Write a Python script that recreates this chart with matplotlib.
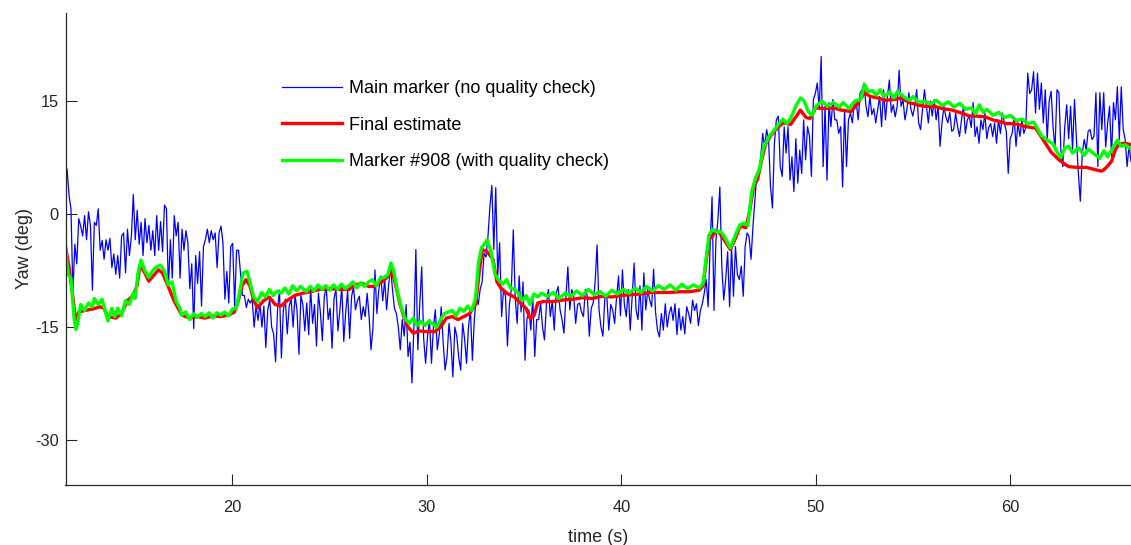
import numpy as np
import matplotlib
matplotlib.use("Agg")
from matplotlib import pyplot as plt

plt.rcParams["font.family"] = ["Liberation Sans", "DejaVu Sans"]
plt.rcParams["axes.unicode_minus"] = False

# Main marker, one value every 0.1 s from 11.4 s to 66.2 s (one row = one second)
blue_yaw = [
    3.0, 6.0, 2.5, 0.7, -10.3, -4.0,
    -6.6, -0.6, -1.6, -2.9, -0.2, -3.4, 0.3, -1.5, -10.1, -1.1,
    -1.5, 0.7, -4.8, -3.5, -6.0, -3.4, -4.8, -3.2, -7.1, -5.3,
    -8.0, -5.5, -8.5, -2.9, -2.5, -7.8, -2.0, -5.5, -3.0, 2.6,
    -3.4, 0.5, -4.0, -1.1, -5.5, -0.6, -3.8, -1.5, -4.8, -2.2,
    -5.5, -0.2, -4.8, -1.0, -5.0, 1.2, 0.7, -9.9, -3.4, -8.5,
    -0.2, -2.9, -1.1, -8.5, -2.0, -4.8, -2.2, -3.8, -9.9, -6.6,
    -15.2, -5.5, -9.2, -5.0, -12.2, -4.3, -3.4, -2.0, -3.8, -2.2,
    -3.4, -2.5, -7.1, -2.5, -1.6, -3.8, -11.3, -7.6, -11.8, -4.3,
    -3.9, -12.2, -4.8, -4.8, -7.8, -10.8, -10.8, -12.4, -11.3, -11.8,
    -11.3, -15.0, -12.2, -14.1, -11.8, -15.0, -12.2, -17.7, -12.7, -11.3,
    -15.0, -15.9, -19.6, -12.7, -10.1, -19.1, -12.7, -11.3, -15.9, -12.2,
    -11.3, -15.0, -10.8, -12.7, -18.6, -10.8, -12.0, -15.5, -11.8, -16.0,
    -9.8, -14.5, -12.0, -17.5, -10.5, -13.0, -16.8, -11.0, -9.6, -14.0,
    -12.5, -17.8, -11.2, -10.0, -15.5, -12.8, -9.5, -16.9, -13.0, -10.2,
    -16.5, -11.0, -9.6, -12.7, -11.5, -10.9, -14.0, -12.3, -13.6, -10.5,
    -13.6, -18.0, -15.0, -7.4, -13.2, -10.0, -8.2, -11.5, -8.7, -12.7,
    -9.5, -7.0, -10.0, -12.5, -13.2, -15.0, -18.0, -14.0, -16.2, -12.0,
    -18.9, -17.0, -22.4, -15.0, -4.7, -18.0, -12.0, -7.0, -16.5, -19.8,
    -16.2, -14.0, -19.8, -15.0, -12.7, -18.0, -16.0, -12.3, -17.0, -20.7,
    -18.9, -14.5, -17.0, -21.6, -15.0, -16.2, -19.0, -20.7, -14.5, -16.5,
    -19.8, -15.0, -12.7, -19.4, -14.0, -10.9, -12.0, -10.0, -9.0, -5.2,
    -5.7, -3.0, 1.0, 3.8, -4.7, 3.5, -8.2, -3.8, -13.6, -10.0,
    -10.9, -17.5, -12.0, -10.0, -2.1, -11.3, -14.5, -8.2, -13.0, -9.0,
    -19.4, -14.0, -12.7, -15.4, -11.0, -18.9, -14.0, -14.0, -11.8, -15.0,
    -16.7, -12.0, -10.0, -13.6, -11.5, -15.4, -10.5, -9.6, -12.7, -14.0,
    -15.8, -11.0, -7.0, -12.7, -10.0, -10.9, -14.5, -12.0, -11.8, -13.0,
    -13.6, -10.0, -10.9, -16.2, -12.5, -11.8, -9.0, -4.1, -12.7, -15.0,
    -16.2, -11.0, -10.9, -15.4, -12.0, -12.7, -14.5, -11.0, -8.2, -13.5,
    -7.4, -12.0, -13.6, -10.0, -15.4, -11.0, -6.5, -12.7, -14.0, -9.5,
    -15.4, -7.8, -12.7, -10.0, -11.4, -12.3, -7.3, -13.0, -15.4, -16.3,
    -13.2, -15.4, -11.9, -15.0, -13.2, -12.3, -14.1, -11.9, -16.0, -12.5,
    -15.4, -13.6, -15.9, -12.3, -13.2, -14.5, -11.4, -12.8, -11.9, -14.8,
    -12.8, -11.9, -10.5, -8.7, -12.3, -4.3, 2.3, -12.8, -3.4, -0.8,
    3.6, -6.9, -11.4, -8.7, -5.0, -12.3, -4.3, -10.9, -4.3, -8.0,
    -8.7, -6.9, -10.9, -4.3, -2.5, -3.0, -6.0, -1.6, 2.0, 5.4,
    5.4, 7.6, 10.7, 8.9, 11.2, 9.9, 3.6, 0.8, 9.4, 12.5,
    13.0, 6.3, 5.0, 11.6, 8.1, 11.6, 4.5, 7.6, 3.0, 10.0,
    4.1, 8.5, 5.4, 12.5, 7.2, 11.6, 10.3, 5.0, 15.2, 16.0,
    17.4, 13.9, 20.9, 6.3, 14.3, 4.5, 14.8, 11.6, 15.2, 12.5,
    12.5, 10.7, 11.6, 3.6, 13.9, 6.3, 12.5, 13.4, 12.1, 14.8,
    14.8, 12.5, 16.1, 16.5, 17.4, 14.3, 12.9, 15.6, 13.2, 14.0,
    12.1, 13.9, 15.6, 11.6, 16.5, 12.5, 15.6, 17.8, 13.5, 14.5,
    12.9, 14.3, 19.1, 14.3, 15.2, 12.5, 13.9, 16.1, 14.0, 13.0,
    14.3, 16.5, 12.1, 11.2, 13.9, 16.5, 14.3, 12.1, 15.0, 13.0,
    15.2, 12.5, 14.3, 9.0, 12.1, 14.3, 12.9, 12.1, 13.5, 11.0,
    11.2, 13.4, 11.6, 10.3, 12.5, 14.3, 10.7, 12.5, 13.0, 11.5,
    14.8, 10.3, 11.6, 9.4, 12.5, 11.2, 13.4, 10.0, 11.5, 12.0,
    10.3, 12.1, 9.4, 12.5, 10.7, 13.4, 12.1, 11.0, 5.4, 10.0,
    10.7, 12.9, 9.0, 12.1, 10.3, 12.5, 10.7, 11.5, 18.7, 16.0,
    16.5, 18.9, 13.4, 18.7, 13.9, 17.4, 12.1, 16.5, 9.9, 15.0,
    16.3, 11.6, 8.5, 16.5, 16.1, 8.5, 6.3, 11.6, 14.5, 10.0,
    14.3, 8.5, 15.2, 9.9, 5.4, 1.7, 8.1, 9.9, 8.5, 11.0,
    11.2, 9.9, 10.3, 16.1, 6.3, 16.1, 11.2, 16.1, 8.9, 12.0,
    14.3, 7.6, 14.8, 12.5, 16.9, 9.9, 16.9, 11.2, 9.9, 6.3, 9.0, 7.0,
]
blue_time = np.linspace(11.4, 66.2, len(blue_yaw))

# Final estimate (time, yaw)
red_time = [
    11.4, 11.6, 11.8, 11.95, 12.1, 12.4, 12.8, 13.2, 13.4, 13.6, 14.0, 14.3,
    14.6, 14.9, 15.1, 15.25, 15.5, 15.7, 16.0, 16.2, 16.4, 16.7, 17.0, 17.4,
    17.8, 18.2, 18.6, 19.0, 19.4, 19.8, 20.1, 20.3, 20.5, 20.7, 20.9, 21.1,
    21.3, 21.6, 21.9, 22.2, 22.5, 22.8, 23.2, 23.6, 24.0, 24.5, 25.0, 25.5,
    26.0, 26.3, 26.7, 27.0, 27.3, 27.7, 28.0, 28.2, 28.4, 28.6, 28.8, 29.0,
    29.3, 29.6, 30.0, 30.4, 30.7, 31.0, 31.3, 31.6, 31.9, 32.2, 32.5, 32.7,
    32.85, 33.1, 33.4, 33.6, 33.8, 34.1, 34.5, 34.8, 35.1, 35.3, 35.5, 35.7,
    36.0, 36.5, 37.0, 37.5, 38.0, 38.5, 39.0, 39.5, 40.0, 40.5, 41.0, 41.5,
    42.0, 42.5, 43.0, 43.5, 44.0, 44.2, 44.5, 44.8, 45.0, 45.3, 45.6, 45.9,
    46.1, 46.4, 46.6, 46.8, 47.0, 47.2, 47.4, 47.7, 48.0, 48.3, 48.7, 49.0,
    49.2, 49.5, 49.7, 50.0, 50.5, 50.9, 51.3, 51.8, 52.1, 52.5, 52.8, 53.2,
    53.6, 54.0, 54.4, 54.8, 55.2, 55.6, 56.1, 56.5, 57.0, 57.5, 57.9, 58.3,
    58.7, 59.1, 59.4, 59.8, 60.1, 60.4, 60.8, 61.3, 61.5, 61.8, 62.1, 62.5,
    62.8, 63.0, 63.4, 63.9, 64.2, 64.5, 64.7, 64.9, 65.2, 65.4, 65.6, 65.9,
    66.2,
]
red_yaw = [
    -4.1, -7.0, -11.0, -14.5, -13.0, -12.8, -12.6, -12.3, -12.5, -13.6, -13.8, -13.2,
    -11.5, -10.8, -9.5, -6.8, -7.8, -8.9, -8.0, -7.4, -7.8, -9.6, -11.5, -13.4,
    -13.8, -13.6, -13.8, -13.5, -13.6, -13.4, -13.0, -11.5, -9.5, -8.7, -9.5, -11.5,
    -12.4, -11.5, -11.0, -12.0, -12.2, -11.5, -10.8, -10.5, -10.3, -10.0, -9.9, -10.0,
    -10.0, -9.4, -9.2, -9.6, -9.6, -9.0, -8.2, -7.4, -9.5, -11.8, -13.5, -14.9,
    -15.8, -15.5, -15.6, -15.6, -15.0, -13.8, -13.6, -14.0, -13.6, -13.2, -12.0, -7.5,
    -4.7, -5.0, -6.0, -9.0, -9.8, -10.5, -11.0, -11.8, -12.5, -13.8, -13.5, -11.8,
    -11.6, -11.6, -11.4, -11.3, -11.1, -11.2, -10.9, -11.0, -10.8, -10.7, -10.6, -10.4,
    -10.4, -10.4, -10.3, -10.3, -10.1, -9.5, -3.4, -2.5, -2.3, -3.5, -4.7, -3.0,
    -1.6, -1.8, 0.5, 3.7, 4.6, 7.0, 9.2, 10.5, 11.4, 12.1, 11.9, 13.0,
    13.8, 12.8, 12.7, 14.1, 14.0, 14.1, 13.8, 13.6, 14.5, 16.1, 15.6, 15.4,
    15.1, 15.2, 15.4, 14.8, 14.5, 14.3, 14.3, 14.0, 13.8, 13.4, 13.0, 13.0,
    12.9, 12.5, 12.3, 12.0, 12.0, 11.9, 11.6, 11.4, 10.6, 9.4, 8.2, 7.2,
    6.6, 6.3, 6.2, 6.2, 6.0, 5.8, 5.7, 6.1, 7.0, 8.6, 9.3, 9.4,
    9.2,
]

# Marker #908 (time, yaw)
green_time = [
    11.4, 11.55, 11.7, 11.85, 11.95, 12.05, 12.2, 12.4, 12.6, 12.8, 12.9, 13.1,
    13.3, 13.5, 13.6, 13.8, 13.95, 14.1, 14.3, 14.5, 14.7, 14.9, 15.0, 15.15,
    15.3, 15.5, 15.7, 15.9, 16.1, 16.3, 16.5, 16.7, 16.9, 17.1, 17.3, 17.4,
    17.6, 17.8, 18.0, 18.2, 18.4, 18.6, 18.8, 19.0, 19.2, 19.4, 19.6, 19.8,
    20.0, 20.2, 20.4, 20.55, 20.75, 20.9, 21.1, 21.3, 21.5, 21.7, 21.9, 22.1,
    22.3, 22.5, 22.7, 22.9, 23.1, 23.3, 23.5, 23.8, 24.0, 24.2, 24.4, 24.6,
    24.8, 25.0, 25.2, 25.4, 25.6, 25.8, 26.0, 26.2, 26.4, 26.6, 26.8, 27.0,
    27.2, 27.4, 27.6, 27.8, 28.0, 28.15, 28.3, 28.5, 28.7, 28.9, 29.1, 29.3,
    29.5, 29.7, 29.9, 30.1, 30.3, 30.5, 30.7, 30.9, 31.1, 31.3, 31.5, 31.7,
    31.9, 32.1, 32.3, 32.5, 32.65, 32.8, 33.0, 33.1, 33.3, 33.5, 33.7, 33.9,
    34.1, 34.3, 34.5, 34.7, 34.9, 35.1, 35.3, 35.5, 35.7, 35.9, 36.2, 36.5,
    36.8, 37.1, 37.4, 37.7, 38.0, 38.3, 38.6, 38.9, 39.2, 39.5, 39.8, 40.1,
    40.4, 40.7, 41.0, 41.3, 41.6, 41.9, 42.2, 42.5, 42.8, 43.1, 43.4, 43.7,
    44.0, 44.2, 44.5, 44.7, 44.9, 45.1, 45.3, 45.6, 45.9, 46.1, 46.3, 46.5,
    46.7, 46.9, 47.1, 47.3, 47.6, 47.9, 48.1, 48.3, 48.5, 48.7, 49.0, 49.2,
    49.4, 49.6, 49.8, 50.0, 50.3, 50.6, 50.9, 51.2, 51.4, 51.7, 52.0, 52.3,
    52.5, 52.7, 52.9, 53.1, 53.3, 53.5, 53.8, 54.0, 54.2, 54.5, 54.8, 55.0,
    55.3, 55.6, 55.9, 56.2, 56.5, 56.8, 57.1, 57.4, 57.7, 58.0, 58.2, 58.4,
    58.6, 58.8, 59.1, 59.4, 59.7, 60.0, 60.3, 60.6, 60.9, 61.2, 61.4, 61.6,
    61.8, 62.0, 62.2, 62.4, 62.6, 62.8, 63.0, 63.2, 63.5, 63.8, 64.0, 64.3,
    64.6, 64.8, 65.0, 65.2, 65.5, 65.7, 65.9, 66.2,
]
green_yaw = [
    -4.0, -8.0, -8.5, -13.5, -15.3, -14.5, -12.0, -12.8, -11.8, -12.3, -11.2, -12.0,
    -11.3, -13.2, -14.2, -12.5, -13.6, -12.5, -13.5, -11.5, -12.0, -10.5, -11.2, -7.8,
    -6.1, -7.5, -8.4, -7.5, -7.0, -6.8, -7.5, -9.4, -9.0, -11.5, -12.5, -13.4,
    -13.0, -14.0, -13.2, -13.7, -13.2, -13.6, -13.1, -13.8, -13.1, -13.4, -13.0, -13.5,
    -12.6, -12.5, -10.0, -7.8, -7.6, -9.0, -11.0, -11.6, -10.4, -11.0, -10.0, -10.8,
    -10.2, -10.5, -9.8, -10.6, -9.5, -10.2, -9.6, -10.3, -9.6, -10.2, -9.4, -10.0,
    -9.5, -10.1, -9.4, -10.0, -9.3, -9.9, -9.5, -9.0, -9.8, -9.1, -9.6, -9.0,
    -8.7, -9.5, -8.5, -8.4, -8.0, -6.5, -7.6, -10.5, -12.5, -14.0, -14.5, -13.8,
    -14.8, -14.2, -14.8, -14.2, -14.6, -15.0, -14.0, -13.2, -13.0, -12.8, -13.5, -12.5,
    -12.9, -12.2, -12.8, -11.2, -6.5, -4.5, -3.8, -3.4, -5.0, -8.0, -8.8, -9.3,
    -8.7, -9.8, -10.0, -10.5, -11.5, -10.8, -12.0, -10.6, -11.0, -10.5, -10.9, -10.4,
    -11.2, -10.5, -10.9, -10.2, -10.8, -10.0, -10.7, -10.3, -10.9, -10.1, -10.6, -10.0,
    -10.5, -9.8, -10.4, -9.6, -10.2, -9.5, -10.0, -9.4, -10.1, -9.3, -9.9, -9.4,
    -9.8, -9.2, -2.8, -2.0, -2.4, -2.3, -3.0, -4.5, -2.5, -1.4, -1.2, -1.5,
    3.0, 4.8, 6.0, 8.8, 10.3, 11.3, 12.0, 12.6, 12.0, 12.7, 14.5, 15.4,
    15.0, 13.6, 13.1, 14.3, 15.0, 14.3, 14.8, 14.2, 14.8, 14.0, 15.0, 15.2,
    17.2, 16.2, 16.4, 15.8, 16.5, 15.6, 16.2, 15.4, 16.3, 15.6, 15.1, 15.6,
    14.8, 15.0, 14.6, 15.1, 14.4, 14.9, 14.2, 14.7, 13.9, 14.1, 13.3, 14.5,
    13.5, 13.9, 13.1, 13.5, 12.8, 13.1, 12.4, 12.6, 12.0, 12.2, 11.3, 10.4,
    10.0, 9.6, 9.3, 8.2, 7.5, 8.8, 9.0, 8.1, 8.8, 7.8, 8.6, 8.0,
    7.4, 8.4, 7.6, 8.5, 9.8, 9.0, 9.2, 8.6,
]

x_ticks = [20, 30, 40, 50, 60]
y_ticks = [-30, -15, 0, 15]

W, H = 1131, 545
fig = plt.figure(figsize=(W / 100, H / 100), dpi=100)
ax = fig.add_axes([65.5 / W, (H - 485) / H, 1 - 65.5 / W, (485 - 12.5) / H])

dark = "#262626"
ax.plot(blue_time, blue_yaw, color=(0, 0, 1), lw=0.9, label="Main marker (no quality check)")
ax.plot(red_time, red_yaw, color=(1, 0, 0), lw=2.4, label="Final estimate")
ax.plot(green_time, green_yaw, color=(0, 1, 0), lw=2.4, label="Marker #908 (with quality check)")

ax.set_xlim(11.42, 66.2)
ax.set_ylim(-35.95, 26.75)
ax.set_xticks(x_ticks)
ax.set_yticks(y_ticks)
ax.spines["top"].set_visible(False)
ax.spines["right"].set_visible(False)
for s in ("left", "bottom"):
    ax.spines[s].set_color(dark)
    ax.spines[s].set_linewidth(0.9)
ax.tick_params(direction="in", length=8, width=0.8, colors=dark, labelsize=11.8)
ax.tick_params(axis="x", pad=11)
ax.tick_params(axis="y", pad=5)
ax.set_xlabel("time (s)", fontsize=13, color=dark, labelpad=10)
ax.set_ylabel("Yaw (deg)", fontsize=13, color=dark, labelpad=1)

leg = ax.legend(loc="upper left", bbox_to_anchor=(282 / W, 1 - 80 / H),
                bbox_transform=fig.transFigure, frameon=False, fontsize=13,
                handlelength=3.3, handletextpad=0.4, labelspacing=1.09,
                borderpad=0, borderaxespad=0)
for t in leg.get_texts():
    t.set_color("black")

fig.savefig("out.png", dpi=100)
